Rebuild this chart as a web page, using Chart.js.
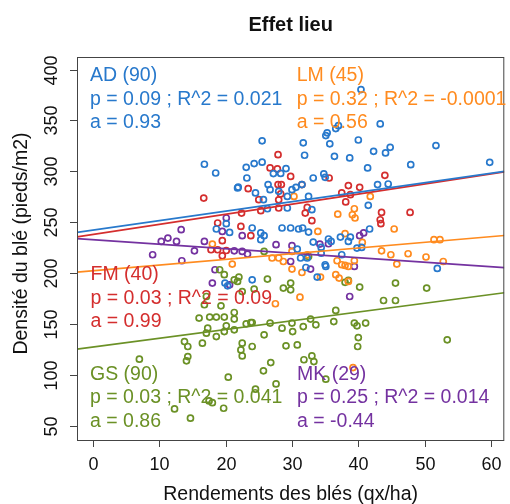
<!DOCTYPE html>
<html>
<head>
<meta charset="utf-8">
<script src="https://cdn.jsdelivr.net/npm/chart.js@4/dist/chart.umd.min.js"></script>
<style>
  body { margin: 0; background: #fff; }
  #wrap { width: 510px; height: 504px; }
</style>
</head>
<body>
<div id="wrap"><canvas id="lieuChart" width="510" height="504"></canvas></div>
<script>
// Yield (qx/ha) vs plant density (pieds/m2), one series per site
const xTicks = [0, 10, 20, 30, 40, 50, 60];
const yTicks = [50, 100, 150, 200, 250, 300, 350, 400];

const siteNames = ['AD', 'LM', 'FM', 'GS', 'MK'];
const siteCounts = [90, 45, 40, 90, 29];
const pValues = ['0.09', '0.32', '0.03', '0.03', '0.25'];
const r2Values = ['0.021', '-0.0001', '0.09', '0.041', '0.014'];
const slopes = [0.93, 0.56, 0.99, 0.86, -0.44];
const intercepts = [242.3, 202.3, 238.1, 127.5, 232.8];
const siteColors = ['#2879cc', '#ff8b1f', '#d42e2e', '#6b9126', '#7432a0'];

const adPoints = [
  [25.5,330],[16.8,307],[18.5,298.4],[23.1,304],[24.3,307.6],[25.5,309],[29.1,302.7],[27.2,297.8],
  [28.3,298],[23.2,293.5],[21.8,283.7],[21.9,284.5],[26.4,287],[24.5,278.8],[26.7,282],[28,280.4],
  [29.3,275.4],[25.7,272.2],[29.3,264],[26.3,263.3],[40.4,380.3],[43.3,346.6],[37.0,344.9],[36.6,342],
  [35.3,337.8],[35.1,335.1],[31.7,328],[35.7,327],[40.0,330.8],[51.7,325.3],[44.8,323.6],[44.1,318.1],
  [42.3,319.7],[31.9,315.8],[36.4,314.8],[38.7,313.2],[47.9,306.6],[59.8,308.9],[41.4,303.4],[34.8,297.5],
  [35.0,294.1],[33.2,293.5],[31.5,287],[30.6,284.3],[30.0,282],[42.9,287],[44.5,287.6],[32.5,275.4],
  [41.5,266.6],[33,262.4],[29.8,244.4],[31.0,243.4],[31.6,244.4],[32.5,240.4],[41.7,243.4],[37.3,235.5],
  [38.8,235.5],[38.5,231.2],[35.5,233.6],[35.9,231.2],[33.2,230.6],[34.4,225.3],[34.4,219.7],[39.8,224.7],
  [40.5,225.3],[51.9,204.7],[37.5,218.1],[30.8,223.7],[31.3,214.9],[32.3,214.9],[32.1,205.6],[35.0,208.3],
  [35.1,206.6],[33.8,196.2],[18.6,243.4],[20.6,240],[24.0,244.4],[25.3,239.5],[25.8,236.8],[28.5,244.4],
  [20.1,248.6],[25.3,232.9],[19.9,190.3],[20.3,187.6],[24.0,193.5]
];
const lmPoints = [
  [41.8,275.4],[30.3,275.4],[39.4,263.3],[36.9,258],[39.1,257.4],[39.5,254.2],[45.4,243.4],[33.9,241],
  [38.0,238.8],[40.6,230.2],[51.4,232.9],[52.3,232.9],[43.5,222],[44.9,218.1],[47.5,219.1],[50.2,215.9],
  [52.8,211.5],[45.8,209],[30.0,221.4],[32.3,218.1],[30.0,204],[31.5,200.7],[36.8,212.2],[37.5,208.3],
  [38.0,207.6],[38.5,206.6],[39.4,212.2],[36.6,198.5],[37.1,195.2],[38.5,191.9],[34.3,196.2],[31.2,176.5],
  [39.2,107.3],[18.0,228.6],[21.0,209],[27.0,214.9],[28.0,214.9],[28.7,211.5],[27.5,170]
];
const fmPoints = [
  [27.9,316.4],[26.7,303.4],[27.8,302.4],[29.8,295],[27.9,287],[28.4,287],[23.4,283],[28.3,277.8],
  [16.7,273.8],[25.0,272.2],[28.0,272],[28.0,264],[25.3,261.4],[22.4,259],[35.6,293.5],[44.0,296.1],
  [31.5,287],[38.5,286],[40.2,284.3],[37.5,278.8],[38.8,277.1],[38.1,270],[32.3,264.6],[32.0,259],
  [43.5,259.7],[47.8,259.7],[43.3,252.5],[43.4,248.6],[33.0,251.6],[18.8,249.3],[22.3,245.9],[23.8,236.8],
  [19.5,231.9],[17.8,223],[18.8,223],[20.1,222.3],[19.5,217.1]
];
const gsPoints = [
  [32.5,216.5],[38.0,191],[38.5,192.9],[45.6,190.3],[40.2,186.4],[50.3,185.4],[43.8,173.2],[45.6,173.2],
  [29.8,190.3],[29.8,183.7],[36.6,163.4],[32.8,154.9],[31.7,147.6],[33.6,149.3],[36.3,152.5],[39.4,151],
  [39.8,148.3],[41.1,151],[30.1,142.7],[40.0,136.8],[39.9,128],[53.4,134.6],[30.8,129.6],[33.0,118.8],
  [31.8,115],[33.3,113.2],[35.1,95.9],[25.8,221.4],[19.1,203.4],[19.8,198.5],[21.3,193.5],[22.0,196.2],
  [21.8,191.9],[26.3,194.2],[28.7,185.4],[22.5,182],[24.3,184.4],[17.1,177.1],[16.8,169],[19.3,168],
  [21.3,161.4],[17.6,156.9],[18.6,156.9],[19.8,156.9],[21.3,154.9],[24.0,151.6],[26.7,151],[30.0,151],
  [16.0,155.9],[17.3,146],[20.1,148.3],[23.1,150.3],[23.8,151.6],[18.6,137.8],[17.1,141.1],[19.8,142.7],
  [21.3,144.4],[25.8,139.5],[28.5,146],[16.5,131.3],[13.8,132.9],[14.3,128],[22.5,131.3],[22.3,124.7],
  [24.0,128],[29.1,128.7],[14.3,118.1],[22.5,118.8],[7.0,115.6],[14.1,113.9],[26.8,112.2],[25.7,104.1],
  [20.4,97.9],[27.6,91.3],[24.5,86.1],[17.5,74.6],[18.0,72.9],[12.3,66.7],[19.7,67.4],[14.7,57.6]
];
const mkPoints = [
  [40.8,239.5],[40.2,236.8],[35.5,228.9],[34.2,228.6],[30.0,227],[29.8,211.5],[32.8,204],[39.4,206.6],
  [38.7,177.1],[20.1,254.2],[13.3,242.7],[19.5,241],[22.5,236.8],[11.3,234.5],[12.6,231.2],[10.3,231.2],
  [16.8,231.2],[27.6,228],[21.3,222],[22.5,221.4],[15.3,222],[9.0,218.1],[23.3,218.8],[13.4,212.2],
  [18.4,203.4],[18.0,190.3],[20.6,188.6]
];
const sitePoints = [adPoints, lmPoints, fmPoints, gsPoints, mkPoints];

const X_MIN = -2.4, X_MAX = 62;
const Y_MIN = 36.2, Y_MAX = 412.3;
const FONT = '"Liberation Sans", Arial, Helvetica, sans-serif';

// where each site's text block sits: [left x, first baseline]
const labelSpots = [[90, 81], [296.7, 81], [90.5, 280], [90, 379.5], [297, 379.5]];

const datasets = [];
sitePoints.forEach((pts, i) => {
  datasets.push({
    type: 'scatter',
    label: siteNames[i],
    data: pts.map(p => ({ x: p[0], y: p[1] })),
    borderColor: siteColors[i],
    backgroundColor: 'rgba(0,0,0,0)',
    pointRadius: 3,
    pointBorderWidth: 1.7,
    order: 1
  });
});
// regression lines, drawn edge to edge like abline()
siteNames.forEach((name, i) => {
  datasets.push({
    type: 'line',
    label: name + ' fit',
    data: [X_MIN, X_MAX].map(x => ({ x: x, y: intercepts[i] + slopes[i] * x })),
    borderColor: siteColors[i],
    borderWidth: 1.7,
    pointRadius: 0,
    fill: false,
    order: 0
  });
});

const frame = {
  id: 'frame',
  afterDraw(chart) {
    const ctx = chart.ctx;
    const a = chart.chartArea;
    const xs = chart.scales.x, ys = chart.scales.y;
    ctx.save();

    // box
    ctx.strokeStyle = '#444';
    ctx.lineWidth = 1;
    ctx.strokeRect(a.left + 0.5, a.top + 0.5, a.right - a.left - 1, a.bottom - a.top);

    // x ticks
    ctx.fillStyle = '#111';
    ctx.font = '18px ' + FONT;
    ctx.textAlign = 'center';
    ctx.textBaseline = 'alphabetic';
    xTicks.forEach(v => {
      const px = Math.round(xs.getPixelForValue(v)) + 0.5;
      ctx.beginPath();
      ctx.moveTo(px, a.bottom);
      ctx.lineTo(px, a.bottom + 7);
      ctx.stroke();
      ctx.fillText(String(v), px, 469.5);
    });

    // y ticks, labels turned like R's las=0
    yTicks.forEach(v => {
      const py = Math.round(ys.getPixelForValue(v)) + 0.5;
      ctx.beginPath();
      ctx.moveTo(a.left - 7, py);
      ctx.lineTo(a.left, py);
      ctx.stroke();
      ctx.save();
      ctx.translate(56.5, py);
      ctx.rotate(-Math.PI / 2);
      ctx.fillText(String(v), 0, 0);
      ctx.restore();
    });

    // titles
    ctx.font = 'bold 20px ' + FONT;
    ctx.fillText('Effet lieu', (a.left + a.right) / 2, 30.5);
    ctx.font = '19.5px ' + FONT;
    ctx.fillText('Rendements des blés (qx/ha)', (a.left + a.right) / 2, 500);
    ctx.save();
    ctx.translate(26.5, 243.5);
    ctx.rotate(-Math.PI / 2);
    ctx.fillText('Densité du blé (pieds/m2)', 0, 0);
    ctx.restore();

    // per-site annotation
    ctx.textAlign = 'left';
    siteNames.forEach((name, i) => {
      const [lx, ly] = labelSpots[i];
      ctx.fillStyle = siteColors[i];
      ctx.fillText(name + ' (' + siteCounts[i] + ')', lx, ly);
      ctx.fillText('p = ' + pValues[i] + ' ; R^2 = ' + r2Values[i], lx, ly + 23.5);
      ctx.fillText('a = ' + slopes[i].toFixed(2), lx, ly + 47);
    });
    ctx.restore();
  }
};

new Chart(document.getElementById('lieuChart'), {
  data: { datasets: datasets },
  options: {
    responsive: false,
    animation: false,
    layout: { padding: { left: 77, right: 4, top: 57, bottom: 64 } },
    plugins: { legend: { display: false }, tooltip: { enabled: false } },
    scales: {
      x: { type: 'linear', display: false, min: X_MIN, max: X_MAX },
      y: { type: 'linear', display: false, min: Y_MIN, max: Y_MAX }
    }
  },
  plugins: [frame]
});
</script>
</body>
</html>
